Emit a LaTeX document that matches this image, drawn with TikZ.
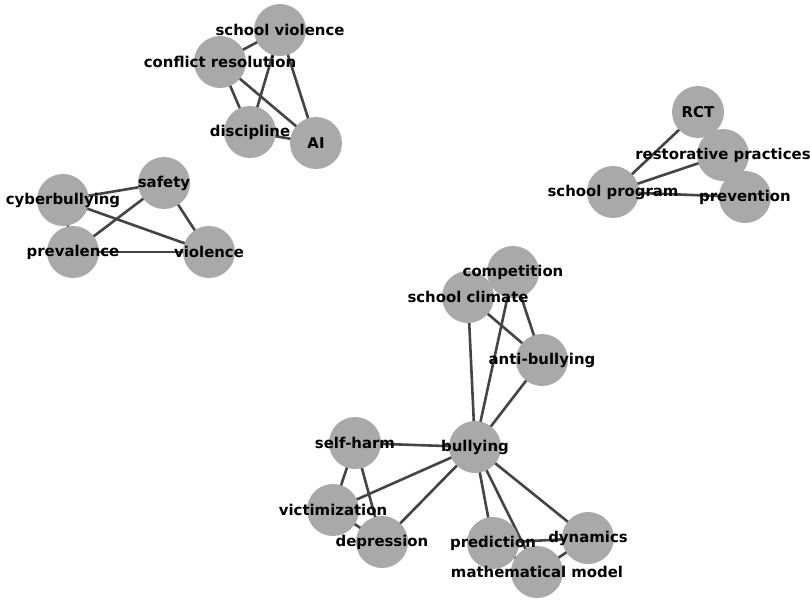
\documentclass[tikz,border=0pt]{standalone}
\usepackage{fontspec}
\setmainfont{DejaVu Sans}
\usetikzlibrary{backgrounds}
\definecolor{nodegray}{HTML}{A9A9A9}
\definecolor{edgegray}{HTML}{444444}
\tikzset{
  dot/.style={circle, fill=nodegray, draw=none, minimum size=52pt, inner sep=0pt},
  lbl/.style={text=black, font=\bfseries\fontsize{14.9}{16}\selectfont, inner sep=0pt},
  edge/.style={draw=edgegray, line width=2.6pt}
}
\begin{document}
\begin{tikzpicture}[x=1pt,y=-1pt]
\useasboundingbox (0,0) rectangle (810,599);
% cluster 1
\node[dot] (sv) at (280,30) {};
\node[dot] (cr) at (220,62) {};
\node[dot] (di) at (250,132) {};
\node[dot] (ai) at (316,143) {};
% cluster 2
\node[dot] (cb) at (63,200) {};
\node[dot] (sa) at (164,183) {};
\node[dot] (pv) at (73,252) {};
\node[dot] (vi) at (209,252) {};
% cluster 3
\node[dot] (rct) at (698,112) {};
\node[dot] (rp) at (723,155) {};
\node[dot] (sp) at (613,192) {};
\node[dot] (pr) at (745,197) {};
% cluster 4
\node[dot] (co) at (513,272) {};
\node[dot] (sc) at (468,297) {};
\node[dot] (ab) at (542,360) {};
\node[dot] (bu) at (475,447) {};
\node[dot] (sh) at (355,443) {};
\node[dot] (vc) at (333,510) {};
\node[dot] (de) at (382,542) {};
\node[dot] (pd) at (493,543) {};
\node[dot] (dy) at (588,538) {};
\node[dot] (mm) at (537,572) {};
\begin{scope}[on background layer]
\fill[white] (0,0) rectangle (810,599);
\foreach \a/\b in {sv/cr, sv/di, sv/ai, cr/di, cr/ai, di/ai,
  cb/sa, cb/vi, cb/pv, sa/pv, sa/vi, pv/vi,
  rct/sp, rct/rp, rp/sp, rp/pr, sp/pr,
  sc/co, sc/ab, co/ab, sc/bu, co/bu, ab/bu,
  bu/sh, bu/vc, bu/de, bu/pd, bu/mm, bu/dy,
  sh/vc, sh/de, vc/de, pd/dy, pd/mm, dy/mm}
  \draw[edge] (\a.center) -- (\b.center);
\end{scope}
% labels
\node[lbl] (sv-l) at (sv) {school violence};
\node[lbl] (cr-l) at (cr) {conflict resolution};
\node[lbl] (di-l) at (di) {discipline};
\node[lbl] (ai-l) at (ai) {AI};
\node[lbl] (cb-l) at (cb) {cyberbullying};
\node[lbl] (sa-l) at (sa) {safety};
\node[lbl] (pv-l) at (pv) {prevalence};
\node[lbl] (vi-l) at (vi) {violence};
\node[lbl] (rct-l) at (rct) {RCT};
\node[lbl] (rp-l) at (rp) {restorative practices};
\node[lbl] (sp-l) at (sp) {school program};
\node[lbl] (pr-l) at (pr) {prevention};
\node[lbl] (co-l) at (co) {competition};
\node[lbl] (sc-l) at (sc) {school climate};
\node[lbl] (ab-l) at (ab) {anti-bullying};
\node[lbl] (bu-l) at (bu) {bullying};
\node[lbl] (sh-l) at (sh) {self-harm};
\node[lbl] (vc-l) at (vc) {victimization};
\node[lbl] (de-l) at (de) {depression};
\node[lbl] (pd-l) at (pd) {prediction};
\node[lbl] (dy-l) at (dy) {dynamics};
\node[lbl] (mm-l) at (mm) {mathematical model};
\end{tikzpicture}
\end{document}
